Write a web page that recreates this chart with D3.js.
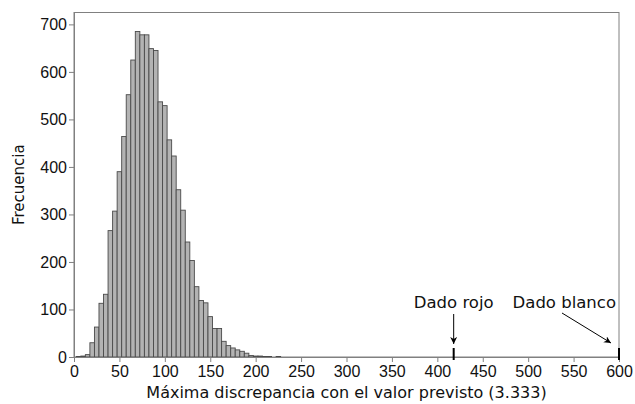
<!DOCTYPE html>
<html>
<head>
<meta charset="utf-8">
<script src="https://cdn.jsdelivr.net/npm/d3@7"></script>
<style>
  body { margin: 0; background: #fff; }
  svg { font-family: "DejaVu Sans", sans-serif; }
</style>
</head>
<body>
<script>
let width = 635;
let height = 404;
let margin = { top: 12.5, right: 16, bottom: 47, left: 74 };

// bin centres (width 5) and their counts
const binWidth = 5;
const binCenters = [5, 10, 15, 20, 25, 30, 35, 40, 45, 50, 55, 60, 65, 70, 75, 80, 85, 90, 95, 100,
    105, 110, 115, 120, 125, 130, 135, 140, 145, 150, 155, 160, 165, 170, 175, 180, 185, 190, 195, 200,
    205, 210, 215, 220, 225];
const counts = [1, 2, 5, 30, 63, 113, 132, 266, 307, 390, 464, 552, 625, 685, 678, 678, 649, 645, 537, 529,
    457, 423, 352, 309, 242, 203, 148, 119, 114, 85, 60, 60, 33, 24, 19, 15, 12, 8, 3, 2,
    2, 1, 1, 0, 1];

const xTicks = [0, 50, 100, 150, 200, 250, 300, 350, 400, 450, 500, 550, 600];
const yTicks = [0, 100, 200, 300, 400, 500, 600, 700];

// observed values for the two dice
const markers = [
    { label: "Dado rojo", value: 418 },
    { label: "Dado blanco", value: 600 }
];

const data = binCenters.map((c, i) => ({ x0: c - binWidth / 2, x1: c + binWidth / 2, n: counts[i] }));

const svg = d3.select("body").append("svg")
    .attr("width", width)
    .attr("height", height);

let x = d3.scaleLinear([0, 600], [margin.left, width - margin.right]);
let y = d3.scaleLinear([0, 725], [height - margin.bottom, margin.top]);

// frame
svg.append("rect")
    .attr("x", margin.left)
    .attr("y", margin.top)
    .attr("width", width - margin.right - margin.left)
    .attr("height", height - margin.bottom - margin.top)
    .attr("fill", "none")
    .attr("stroke", "#808080");

// bars
svg.append("g")
    .selectAll("rect")
    .data(data)
    .join("rect")
    .attr("x", d => x(d.x0))
    .attr("width", d => x(d.x1) - x(d.x0))
    .attr("y", d => y(d.n))
    .attr("height", d => y(0) - y(d.n))
    .attr("fill", "#b3b3b3")
    .attr("stroke", "#4a4a4a")
    .attr("stroke-width", 0.9);

// axes
svg.append("g")
    .attr("transform", `translate(0,${y(0)})`)
    .call(d3.axisBottom(x).tickValues(xTicks).tickSize(5).tickPadding(4).tickSizeOuter(0))
    .call(g => g.select(".domain").attr("stroke", "#808080"))
    .call(g => g.selectAll(".tick line").attr("stroke", "#808080"))
    .call(g => g.selectAll("text").attr("font-size", 16).attr("fill", "#111"));

svg.append("g")
    .attr("transform", `translate(${margin.left},0)`)
    .call(d3.axisLeft(y).tickValues(yTicks).tickSize(5).tickPadding(2).tickSizeOuter(0))
    .call(g => g.select(".domain").attr("stroke", "#808080"))
    .call(g => g.selectAll(".tick line").attr("stroke", "#808080"))
    .call(g => g.selectAll("text").attr("font-size", 16).attr("fill", "#111"));

// axis titles
svg.append("text")
    .attr("x", (margin.left + width - margin.right) / 2)
    .attr("y", height - 6)
    .attr("text-anchor", "middle")
    .attr("font-size", 16)
    .attr("fill", "#111")
    .text("Máxima discrepancia con el valor previsto (3.333)");

svg.append("text")
    .attr("transform", `translate(24,${(margin.top + height - margin.bottom) / 2}) rotate(-90)`)
    .attr("text-anchor", "middle")
    .attr("font-size", 15)
    .attr("fill", "#111")
    .text("Frecuencia");

// arrowhead
svg.append("defs").append("marker")
    .attr("id", "arrow")
    .attr("viewBox", "0 0 10 10")
    .attr("refX", 10)
    .attr("refY", 5)
    .attr("markerWidth", 7)
    .attr("markerHeight", 7)
    .attr("markerUnits", "userSpaceOnUse")
    .attr("orient", "auto")
    .append("path")
    .attr("d", "M0,0L10,5L0,10L3,5Z")
    .attr("fill", "#000");

// dice markers
svg.append("g")
    .selectAll("line")
    .data(markers)
    .join("line")
    .attr("x1", d => x(d.value))
    .attr("x2", d => x(d.value))
    .attr("y1", y(0) - 9)
    .attr("y2", y(0) + 3)
    .attr("stroke", "#000")
    .attr("stroke-width", 2);

// red die: vertical arrow
svg.append("line")
    .attr("x1", x(markers[0].value))
    .attr("x2", x(markers[0].value))
    .attr("y1", y(0) - 43)
    .attr("y2", y(0) - 13)
    .attr("stroke", "#000")
    .attr("marker-end", "url(#arrow)");

svg.append("text")
    .attr("x", x(markers[0].value))
    .attr("y", y(0) - 49)
    .attr("text-anchor", "middle")
    .attr("font-size", 16.5)
    .attr("fill", "#111")
    .text(markers[0].label);

// white die: diagonal arrow
svg.append("line")
    .attr("x1", x(markers[1].value) - 57)
    .attr("x2", x(markers[1].value) - 8)
    .attr("y1", y(0) - 44)
    .attr("y2", y(0) - 14)
    .attr("stroke", "#000")
    .attr("marker-end", "url(#arrow)");

svg.append("text")
    .attr("x", x(markers[1].value) - 3)
    .attr("y", y(0) - 49)
    .attr("text-anchor", "end")
    .attr("font-size", 16.5)
    .attr("fill", "#111")
    .text(markers[1].label);
</script>
</body>
</html>
